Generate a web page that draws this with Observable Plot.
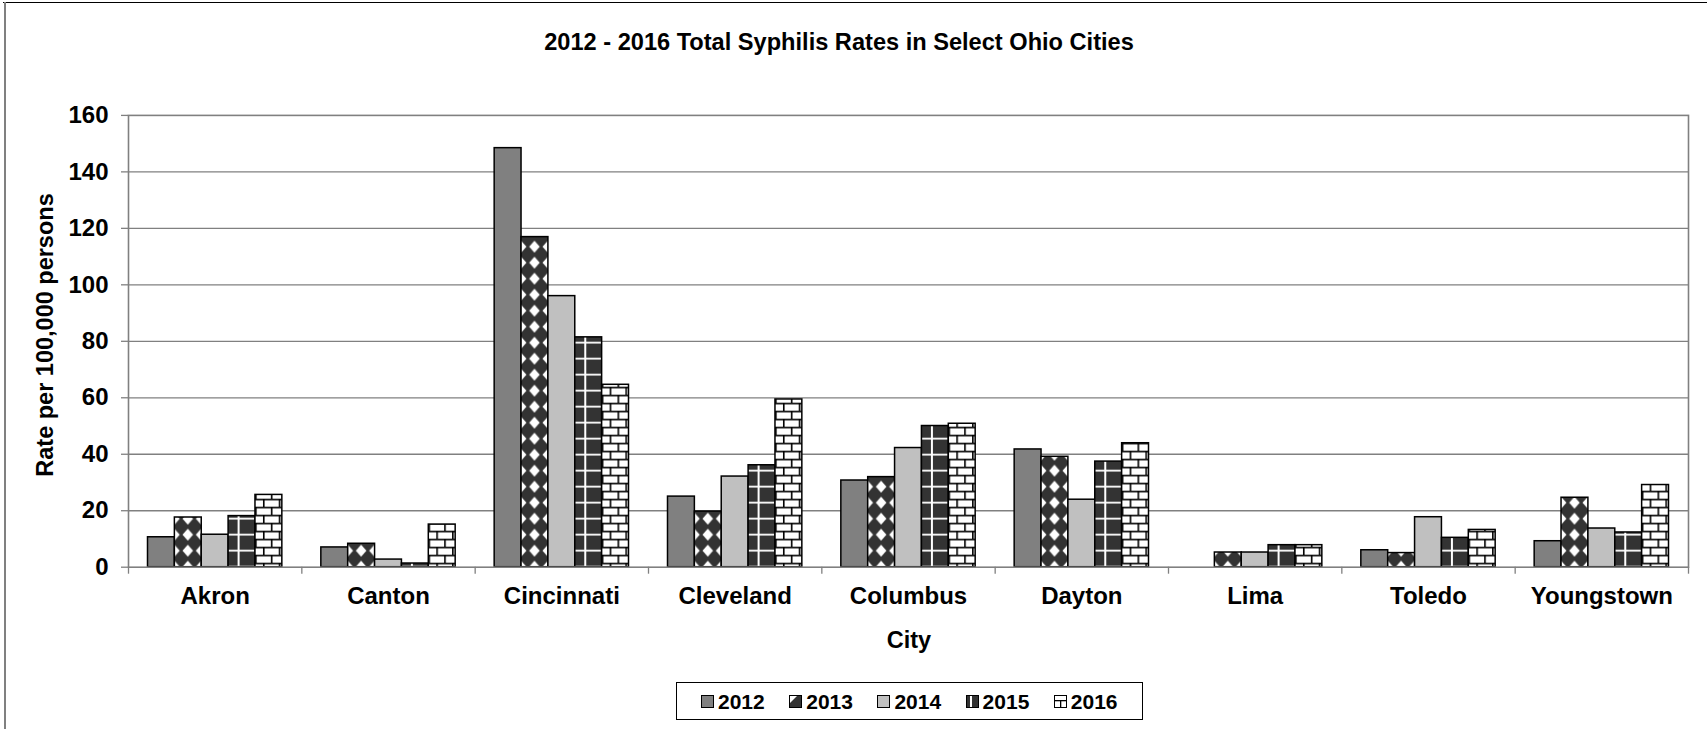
<!DOCTYPE html>
<html>
<head>
<meta charset="utf-8">
<script src="https://cdn.jsdelivr.net/npm/d3@7"></script>
<script src="https://cdn.jsdelivr.net/npm/@observablehq/plot@0.6"></script>
<style>
  html, body { margin: 0; padding: 0; background: #fff; }
  #wrap { position: relative; width: 1707px; height: 729px; overflow: hidden; background: #fff;
          font-family: Arial, "Liberation Sans", sans-serif; font-weight: bold; color: #000; }
  .abs { position: absolute; line-height: 1; white-space: nowrap; }
  #legend { position: absolute; left: 676px; top: 682px; width: 467px; height: 38px; box-sizing: border-box;
            border: 1.5px solid #000; display: flex; align-items: center; padding-left: 24px; }
  .item { width: 91px; display: flex; align-items: center; font-size: 21px; line-height: 1; }
  .item svg { margin-right: 4px; flex: none; }
</style>
</head>
<body>
<div id="wrap">
  <svg id="defs" width="0" height="0" style="position:absolute"><defs id="pdefs"></defs></svg>
  <div style="position:absolute;left:3px;top:2px;width:1710px;height:0;border-top:1.5px solid #000"></div>
  <div style="position:absolute;left:3.5px;top:2px;width:0;height:740px;border-left:2px solid #808080"></div>
  <div id="title" class="abs" style="left:839px;top:31px;font-size:23.6px;transform:translateX(-50%)"></div>
  <div id="ylabel" class="abs" style="left:45.5px;top:334.5px;font-size:23.5px;transform:translate(-50%,-50%) rotate(-90deg)"></div>
  <div id="xlabel" class="abs" style="left:909px;top:629px;font-size:23.5px;transform:translateX(-50%)"></div>
  <div id="legend"></div>
</div>
<script>
// ---- data ----
const titleText = "2012 - 2016 Total Syphilis Rates in Select Ohio Cities";
const yLabelText = "Rate per 100,000 persons";
const xLabelText = "City";
const cities = ["Akron", "Canton", "Cincinnati", "Cleveland", "Columbus", "Dayton", "Lima", "Toledo", "Youngstown"];
const years = ["2012", "2013", "2014", "2015", "2016"];
const rate2012 = [10.6, 7.0, 148.4, 25.0, 30.7, 41.7, 0, 6.0, 9.2];
const rate2013 = [17.6, 8.3, 116.9, 19.7, 31.9, 39.1, 5.2, 5.0, 24.6];
const rate2014 = [11.5, 2.7, 96.0, 32.1, 42.2, 23.9, 5.2, 17.7, 13.7];
const rate2015 = [18.1, 1.3, 81.4, 36.1, 50.0, 37.4, 7.8, 10.4, 12.3];
const rate2016 = [25.6, 15.1, 64.6, 59.4, 50.8, 43.9, 7.8, 13.2, 29.1];
const yTicks = [0, 20, 40, 60, 80, 100, 120, 140, 160];

const series = [rate2012, rate2013, rate2014, rate2015, rate2016];

// ---- layout constants (in category units) ----
const groupPad = 0.1125;
const barW = (1 - 2 * groupPad) / years.length;

const rows = [];
years.forEach((yr, j) => {
  cities.forEach((c, i) => {
    rows.push({city: c, year: yr, rate: series[j][i], x1: i + groupPad + j * barW, x2: i + groupPad + (j + 1) * barW});
  });
});

document.getElementById("title").textContent = titleText;
document.getElementById("ylabel").textContent = yLabelText;
document.getElementById("xlabel").textContent = xLabelText;

const fills = {"2012": "#808080", "2013": "url(#p2013)", "2014": "#C0C0C0", "2015": "url(#p2015)", "2016": "url(#p2016)"};

const barMarks = years.map(yr => Plot.rect(rows.filter(d => d.year === yr && d.rate > 0), {
  x1: "x1", x2: "x2", y1: 0, y2: "rate", fill: fills[yr], stroke: "#000", strokeWidth: 1.5
}));

const chart = Plot.plot({
  width: 1707,
  height: 729,
  marginLeft: 128,
  marginRight: 19,
  marginTop: 114.9,
  marginBottom: 162.3,
  x: {domain: [0, cities.length]},
  y: {domain: [0, 160]},
  style: {fontFamily: "Arial, 'Liberation Sans', sans-serif", fontSize: "24px", fontWeight: "bold", color: "#000", background: "transparent", overflow: "visible"},
  marks: [
    Plot.ruleY(yTicks.slice(1, -1), {stroke: "#808080", strokeWidth: 1.3}),
    ...barMarks,
    Plot.frame({stroke: "#808080", strokeWidth: 1.6}),
    Plot.axisY({ticks: yTicks, tickSize: 7, tickPadding: 13, stroke: "#808080", strokeWidth: 1.3, label: null, fontSize: 24}),
    Plot.axisX({ticks: d3.range(cities.length + 1), tickSize: 7, tickFormat: () => "", stroke: "#808080", strokeWidth: 1.3, label: null}),
    Plot.axisX({ticks: cities.map((c, i) => i + 0.5), tickSize: 0, tickPadding: 20, tickFormat: d => cities[Math.floor(d)], label: null, fontSize: 24})
  ]
});
chart.style.position = "absolute";
chart.style.left = "0px";
chart.style.top = "0px";
document.getElementById("wrap").insertBefore(chart, document.getElementById("title"));

// ---- patterns, aligned to the bars through the scales ----
const sx = chart.scale("x"), sy = chart.scale("y");
const band = sx.apply(1) - sx.apply(0);
const y0 = sy.apply(0);
const ns = "http://www.w3.org/2000/svg";
function el(tag, attrs, parent) {
  const e = document.createElementNS(ns, tag);
  for (const k in attrs) e.setAttribute(k, attrs[k]);
  if (parent) parent.appendChild(e);
  return e;
}
const defs = document.getElementById("pdefs");
// 2013: white diamonds on dark
{
  const w = band / 13, h = 16;
  const cx = sx.apply(groupPad + barW * 1.5);
  const p = el("pattern", {id: "p2013", patternUnits: "userSpaceOnUse", width: w, height: h, x: cx - w / 2, y: y0 - 8}, defs);
  el("rect", {width: w, height: h, fill: "#333"}, p);
  el("polygon", {points: `${w/2},${2} ${w/2+5.3},${8} ${w/2},${14} ${w/2-5.3},${8}`, fill: "#fff"}, p);
}
// 2015: white grid on dark
{
  const w = band / 6, h = 16;
  const lx = sx.apply(groupPad + barW * 3) + 10.5;
  const p = el("pattern", {id: "p2015", patternUnits: "userSpaceOnUse", width: w, height: h, x: lx - 1, y: y0 - 1}, defs);
  el("rect", {width: w, height: h, fill: "#333"}, p);
  el("rect", {x: 0, y: 0, width: 2, height: h, fill: "#fff"}, p);
  el("rect", {x: 0, y: 0, width: w, height: 1.8, fill: "#fff"}, p);
}
// 2016: black bricks on white
{
  const w = band / 11, h = 16;
  const lx = sx.apply(groupPad + barW * 4) + 8;
  const p = el("pattern", {id: "p2016", patternUnits: "userSpaceOnUse", width: w, height: h, x: lx, y: y0 - 4}, defs);
  el("rect", {width: w, height: h, fill: "#fff"}, p);
  el("rect", {x: 0, y: 0, width: w, height: 1.6, fill: "#000"}, p);
  el("rect", {x: 0, y: 8, width: w, height: 1.6, fill: "#000"}, p);
  el("rect", {x: 0, y: 0, width: 1.6, height: 8, fill: "#000"}, p);
  el("rect", {x: w / 2, y: 8, width: 1.6, height: 8, fill: "#000"}, p);
}

// ---- legend ----
const legend = document.getElementById("legend");
years.forEach(yr => {
  const item = document.createElement("div");
  item.className = "item";
  const s = el("svg", {width: 13, height: 13});
  const bg = {"2012": "#808080", "2013": "#333", "2014": "#C0C0C0", "2015": "#333", "2016": "#fff"}[yr];
  el("rect", {x: 0.5, y: 0.5, width: 12, height: 12, fill: bg}, s);
  if (yr === "2013") el("polygon", {points: "1,1 8,1 1,8", fill: "#fff"}, s);
  if (yr === "2015") el("rect", {x: 4, y: 1, width: 2, height: 11, fill: "#fff"}, s);
  if (yr === "2016") {
    el("rect", {x: 1, y: 5, width: 11, height: 1.3, fill: "#000"}, s);
    el("rect", {x: 6, y: 5, width: 1.3, height: 7, fill: "#000"}, s);
  }
  el("rect", {x: 0.5, y: 0.5, width: 12, height: 12, fill: "none", stroke: "#000", "stroke-width": 1}, s);
  item.appendChild(s);
  const t = document.createElement("span");
  t.textContent = yr;
  item.appendChild(t);
  legend.appendChild(item);
});
</script>
</body>
</html>
